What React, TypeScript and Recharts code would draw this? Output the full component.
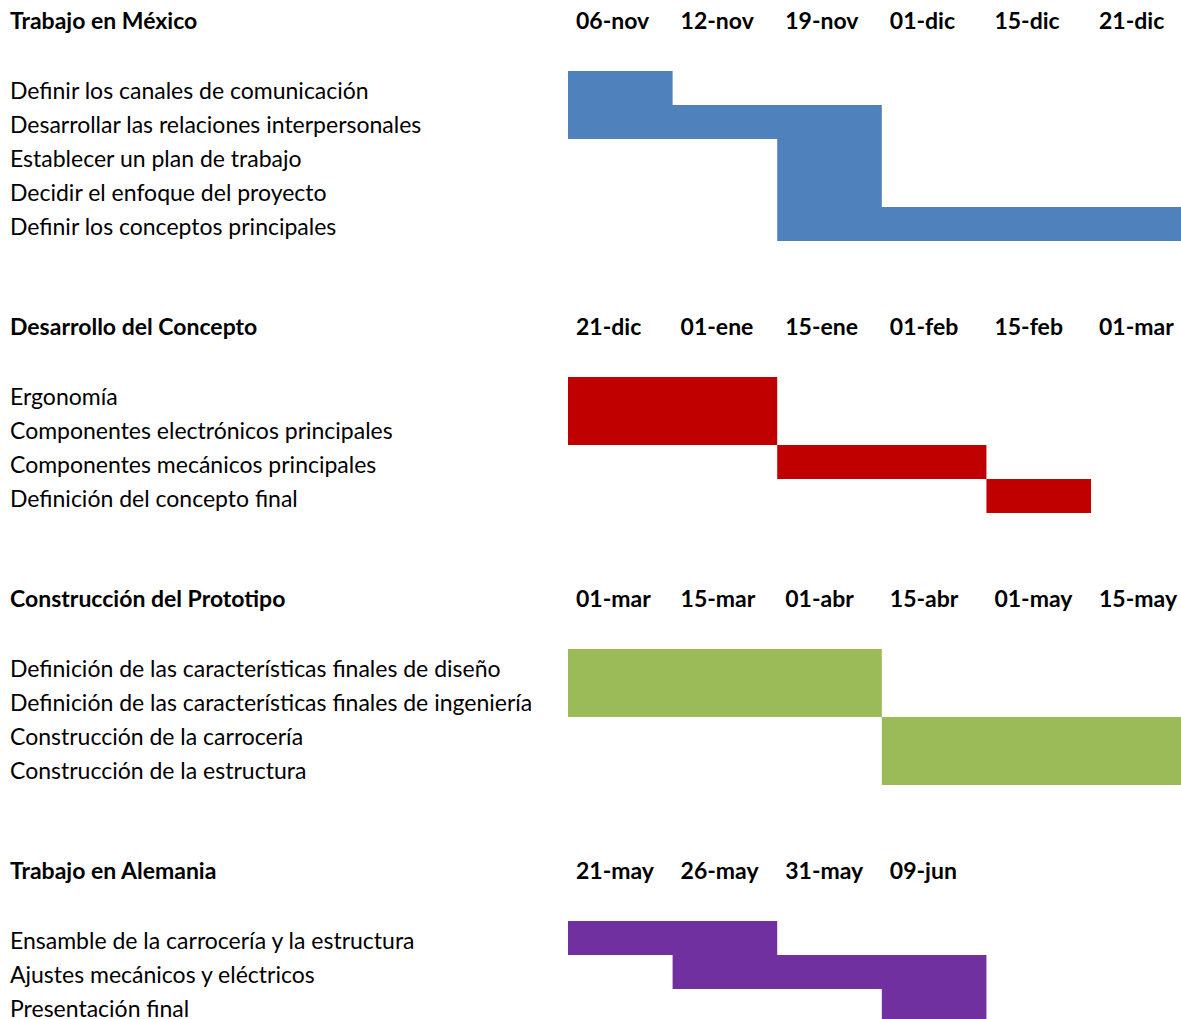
import React from 'react';
import { BarChart, Bar, XAxis, YAxis } from 'recharts';

// Trabajo en México
const mexicoTasks = [
  'Definir los canales de comunicación',
  'Desarrollar las relaciones interpersonales',
  'Establecer un plan de trabajo',
  'Decidir el enfoque del proyecto',
  'Definir los conceptos principales',
];
const mexicoStart = [0, 0, 2, 2, 2];
const mexicoEnd = [1, 3, 3, 3, 6];
const mexicoDates = ['06-nov', '12-nov', '19-nov', '01-dic', '15-dic', '21-dic'];

// Desarrollo del Concepto
const conceptoTasks = [
  'Ergonomía',
  'Componentes electrónicos principales',
  'Componentes mecánicos principales',
  'Definición del concepto final',
];
const conceptoStart = [0, 0, 2, 4];
const conceptoEnd = [2, 2, 4, 5];
const conceptoDates = ['21-dic', '01-ene', '15-ene', '01-feb', '15-feb', '01-mar'];

// Construcción del Prototipo
const prototipoTasks = [
  'Definición de las características finales de diseño',
  'Definición de las características finales de ingeniería',
  'Construcción de la carrocería',
  'Construcción de la estructura',
];
const prototipoStart = [0, 0, 3, 3];
const prototipoEnd = [3, 3, 6, 6];
const prototipoDates = ['01-mar', '15-mar', '01-abr', '15-abr', '01-may', '15-may'];

// Trabajo en Alemania
const alemaniaTasks = [
  'Ensamble de la carrocería y la estructura',
  'Ajustes mecánicos y eléctricos',
  'Presentación final',
];
const alemaniaStart = [0, 1, 3];
const alemaniaEnd = [2, 4, 4];
const alemaniaDates = ['21-may', '26-may', '31-may', '09-jun'];

const ROW = 34;
const FONT = 'Lato, "Open Sans", sans-serif';
const FONT_SIZE = 23;
const WIDTH = 1181;
const LABEL_W = 568;
const COL_MAX = 5.86;

const sections = [
  { title: 'Trabajo en México', tasks: mexicoTasks, start: mexicoStart, end: mexicoEnd, dates: mexicoDates, color: '#4F81BD' },
  { title: 'Desarrollo del Concepto', tasks: conceptoTasks, start: conceptoStart, end: conceptoEnd, dates: conceptoDates, color: '#C00000' },
  { title: 'Construcción del Prototipo', tasks: prototipoTasks, start: prototipoStart, end: prototipoEnd, dates: prototipoDates, color: '#9BBB59' },
  { title: 'Trabajo en Alemania', tasks: alemaniaTasks, start: alemaniaStart, end: alemaniaEnd, dates: alemaniaDates, color: '#7030A0' },
];

const TaskTick = (props: any) => {
  const { y, payload } = props;
  return (
    <text x={10} y={y + 11} textAnchor="start" fontSize={FONT_SIZE} fill="#000" fontFamily={FONT}>
      {payload.value}
    </text>
  );
};

const DateTick = (props: any) => {
  const { x, payload, dates } = props;
  return (
    <text x={x + 8} y={ROW / 2 + 9} textAnchor="start" fontSize={FONT_SIZE} fontWeight="bold" fill="#000" fontFamily={FONT}>
      {dates[payload.value]}
    </text>
  );
};

const Section = ({ s }: { s: typeof sections[number] }) => {
  const data = s.tasks.map((task, i) => ({
    task,
    offset: s.start[i],
    span: s.end[i] - s.start[i],
  }));
  const ticks = s.dates.map((_, i) => i);
  return (
    <div style={{ position: 'relative', marginBottom: ROW * 2 }}>
      <svg width={LABEL_W} height={ROW} style={{ position: 'absolute', left: 0, top: 0 }}>
        <text x={10} y={ROW / 2 + 9} fontSize={FONT_SIZE} fontWeight="bold" fill="#000" fontFamily={FONT}>
          {s.title}
        </text>
      </svg>
      <BarChart
        width={WIDTH}
        height={(s.tasks.length + 2) * ROW}
        data={data}
        layout="vertical"
        margin={{ top: 0, right: 0, bottom: 0, left: 0 }}
        barCategoryGap={0}
      >
        <XAxis
          type="number"
          orientation="top"
          domain={[0, COL_MAX]}
          allowDataOverflow
          ticks={ticks}
          interval={0}
          height={ROW * 2}
          axisLine={false}
          tickLine={false}
          tick={<DateTick dates={s.dates} />}
        />
        <YAxis
          type="category"
          dataKey="task"
          width={LABEL_W}
          interval={0}
          axisLine={false}
          tickLine={false}
          tick={<TaskTick />}
        />
        <Bar dataKey="offset" stackId="a" fill="transparent" isAnimationActive={false} />
        <Bar dataKey="span" stackId="a" fill={s.color} isAnimationActive={false} />
      </BarChart>
    </div>
  );
};

const App: React.FC = () => {
  return (
    <div style={{ paddingTop: 3, background: '#fff' }}>
      <style>{'body{margin:0;overflow:hidden;background:#fff}'}</style>
      {sections.map((s) => (
        <Section key={s.title} s={s} />
      ))}
    </div>
  );
};

export default App;
